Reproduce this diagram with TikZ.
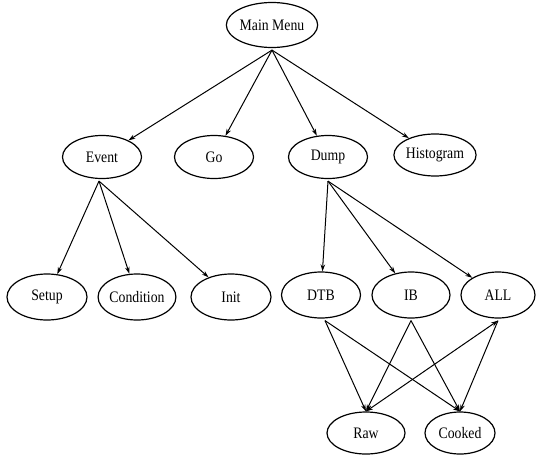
\documentclass[tikz,border=0pt]{standalone}
\usepackage{fontspec}
\setmainfont[FakeStretch=0.86]{Liberation Serif}
\usetikzlibrary{shapes.geometric,arrows.meta}
\begin{document}
\begin{tikzpicture}[x=1pt,y=-1pt,
  el/.style={draw,ellipse,line width=1.2pt,minimum width=78pt,minimum height=44pt,inner sep=0pt,font=\fontsize{16}{19}\selectfont},
  ar/.style={line width=1pt,-{Stealth[length=7pt,width=4.5pt]}}]
\useasboundingbox (0,0) rectangle (538,455);
\node[el,minimum width=84pt,minimum height=45pt] (mm) at (272,25) {Main Menu};
\node[el,minimum width=79pt,minimum height=43pt] (ev) at (102,157) {Event};
\node[el,minimum width=79pt,minimum height=43pt] (go) at (214,157) {Go};
\node[el,minimum width=79pt,minimum height=43pt] (du) at (328,157) {Dump};
\node[el,minimum width=70pt,minimum height=42pt] (hi) at (435,155) {Histogram};
\node[el,minimum width=80pt,minimum height=46pt] (se) at (47,297) {Setup};
\node[el,minimum width=76pt,minimum height=46pt] (co) at (137,297) {Condition};
\node[el,minimum width=80pt,minimum height=46pt] (in) at (231,297) {Init};
\node[el,minimum width=79pt,minimum height=46pt] (dt) at (321,295) {DTB};
\node[el,minimum width=78pt,minimum height=46pt] (ib) at (411,295) {IB};
\node[el,minimum width=74pt,minimum height=46pt] (al) at (498,295) {ALL};
\node[el,minimum width=78pt,minimum height=42pt] (ra) at (366,433) {Raw};
\node[el,minimum width=70pt,minimum height=42pt] (ck) at (460,433) {Cooked};
\coordinate (mmb) at ([yshift=-2pt]mm.south);
\draw[ar] (mmb) -- (ev);
\draw[ar] (mmb) -- (go);
\draw[ar] (mmb) -- (du);
\draw[ar] (mmb) -- (hi);
\draw[ar] ([xshift=-3pt,yshift=-2pt]ev.south) -- (se);
\draw[ar] ([xshift=-3pt,yshift=-2pt]ev.south) -- (co);
\draw[ar] ([xshift=-3pt,yshift=-2pt]ev.south) -- (in);
\draw[ar] ([yshift=-2pt]du.south) -- (dt);
\draw[ar] ([yshift=-2pt]du.south) -- (ib);
\draw[ar] ([yshift=-2pt]du.south) -- (al);
\draw[ar] ([xshift=4pt,yshift=-2pt]dt.south) -- (ra.north);
\draw[ar] ([xshift=4pt,yshift=-2pt]dt.south) -- (ck.north);
\draw[ar] ([yshift=-2pt]ib.south) -- (ra.north);
\draw[ar] ([yshift=-2pt]ib.south) -- (ck.north);
\draw[ar,{Stealth[length=7pt,width=4.5pt]}-{Stealth[length=7pt,width=4.5pt]}] ([yshift=-2pt]al.south) -- (ra.north);
\draw[ar] ([yshift=-2pt]al.south) -- (ck.north);
\end{tikzpicture}
\end{document}
